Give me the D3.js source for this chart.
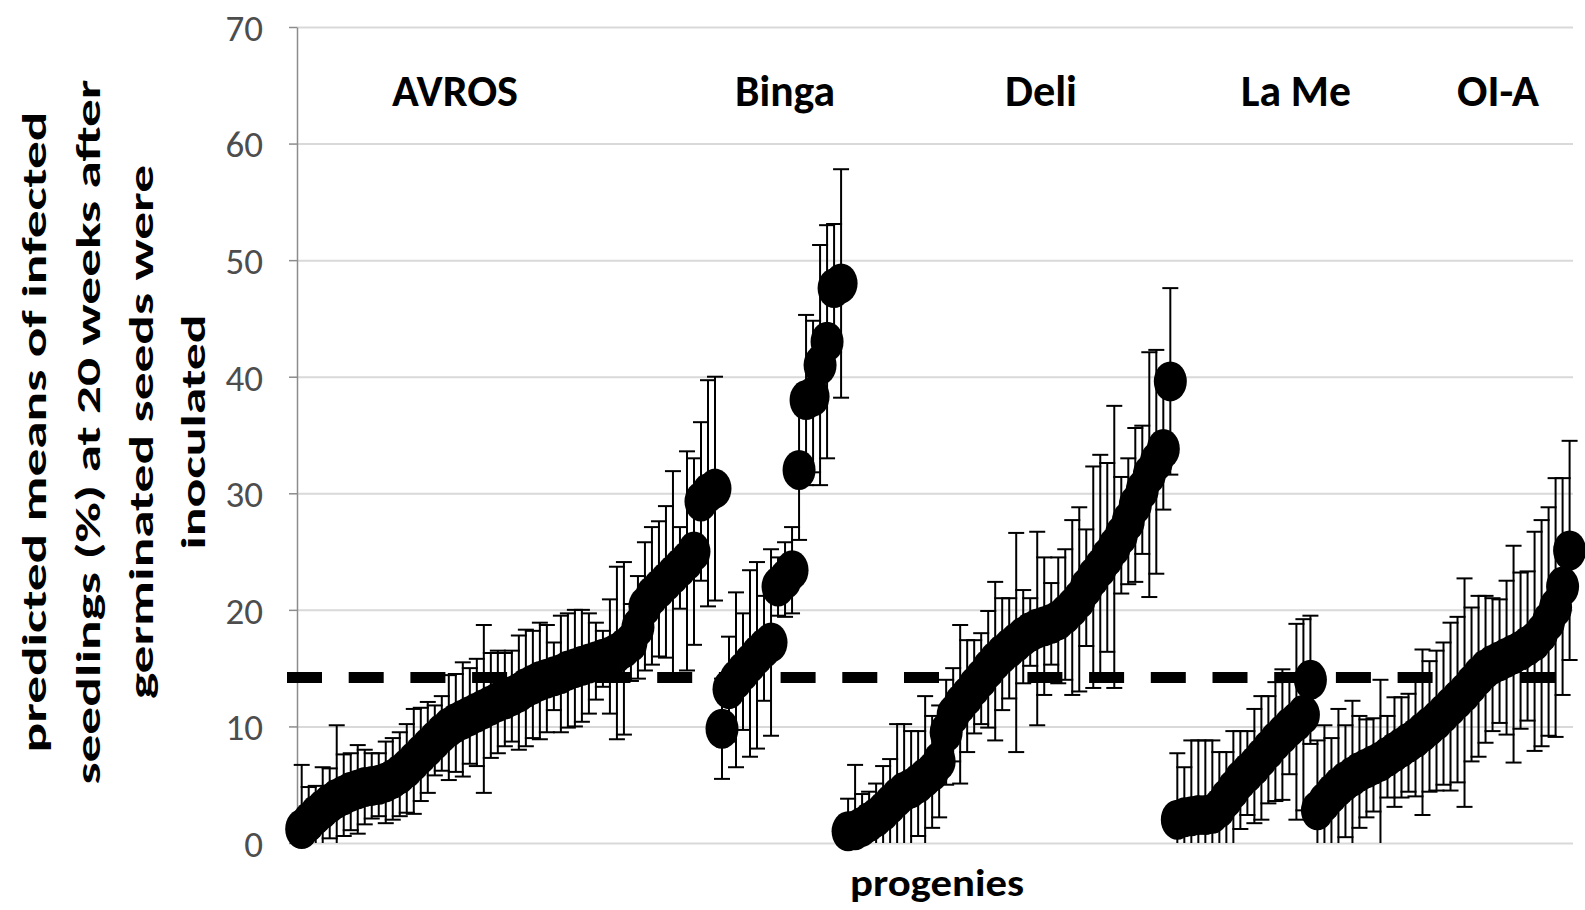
<!DOCTYPE html>
<html lang="en">
<head>
<meta charset="UTF-8">
<title>Predicted means of infected seedlings by progeny</title>
<script src="https://cdn.jsdelivr.net/npm/d3@7"></script>
<style>
    body{ margin: 0; background: #fff; }
    svg{ display: block; }
    .grid line{ stroke: #d9d9d9; stroke-width: 2px; }
    .grid .domain{ display: none; }
    .yaxis .domain{ stroke: #8c8c8c; stroke-width: 1.5px; }
    .yaxis line{ stroke: #8c8c8c; stroke-width: 1.5px; }
    .yaxis text{ font-family: Carlito, Lato, sans-serif; font-size: 37px; fill: #4d4d4d; }
    .errbar{ stroke: #000; stroke-width: 2px; fill: none; }
    .group-label{ font-family: Carlito, Lato, sans-serif; font-weight: bold; font-size: 45px; fill: #000; }
    .title{ font-family: Carlito, Lato, sans-serif; font-weight: bold; fill: #000; }
</style>
</head>
<body>
<svg id="chart"></svg>
<script>
    // group names (left to right)
    const groups = ['AVROS', 'Binga', 'Deli', 'La Me', 'OI-A'];

    // predicted means (%) and error bar half widths, sorted within each group
    const avrosMean = [1.2,1.8,2.4,2.9,3.4,3.8,4.1,4.4,4.6,4.8, 4.9,5.0,5.2,5.5,5.9,6.4,7.0,7.6,8.2,8.8,
        9.4,9.9,10.3,10.6,10.9,11.2,11.5,11.8,12.1,12.3, 12.6,12.9,13.3,13.6,13.9,14.1,14.3,14.5,14.8,15.0,
        15.2,15.4,15.6,15.8,16.0,16.3,16.7,17.2,18.5,20.3, 21.2,21.8,22.4,23.0,23.6,24.2,25.0,29.3,30.0,30.4];
    const avrosErr = [5.5,3.0,2.5,3.6,3.0,6.3,3.5,3.3,3.8,3.2, 2.8,2.7,3.5,3.5,3.6,3.8,4.5,4.0,3.9,3.0,
        3.2,4.5,4.2,4.9,4.1,4.6,7.2,4.5,4.4,4.0, 3.9,4.9,5.0,4.6,5.0,4.6,2.9,5.0,4.9,5.0,
        4.8,4.3,3.3,2.4,4.9,7.4,7.4,3.3,4.4,5.5, 5.9,5.8,6.5,8.9,3.5,9.4,8.0,6.8,9.7,9.6];

    const bingaMean = [9.8,13.2,14.0,14.7,15.4,16.1,16.7,17.2,22.0,22.6,23.4,32.0,38.0,38.3,41.0,43.0,47.6,48.0];
    const bingaErr  = [4.3,4.5,7.5,5.0,8.0,8.0,4.5,8.0,2.5,3.2,3.7,6.0,7.3,6.5,10.3,10.0,5.5,9.8];

    const deliMean = [1.0,1.1,1.4,1.8,2.2,2.7,3.3,3.9,4.4,4.7, 5.1,5.6,6.1,7.0,9.5,11.0,11.9,12.6,13.4,14.1,
        14.9,15.6,16.2,16.7,17.2,17.7,18.1,18.4,18.6,18.8, 19.1,19.6,20.2,20.9,21.9,22.8,23.6,24.5,25.4,26.4,
        27.6,29.0,30.3,31.6,32.7,33.8,39.6];
    const deliErr = [2.8,5.6,2.8,2.6,2.9,3.9,3.9,6.3,5.8,4.9, 4.5,7.0,4.8,4.8,4.5,4.0,6.8,4.8,4.0,3.9,
        5.0,6.8,4.8,4.3,9.4,4.0,2.9,8.3,5.9,3.5, 5.4,5.6,7.5,7.9,5.0,9.5,9.7,8.1,12.1,5.0,
        5.4,6.6,5.5,10.5,9.6,5.2,8.0];

    const lameMean = [2.0,2.2,2.3,2.4,2.4,2.5,3.0,3.8,4.6,5.4, 6.0,6.6,7.3,8.0,8.7,9.3,9.9,10.4,11.0,14.0];
    const lameErr  = [5.7,4.3,6.5,6.4,6.4,6.3,4.8,4.0,5.0,4.2, 3.6,4.9,5.3,4.6,5.1,5.6,4.0,8.4,8.2,5.5];

    const oiaMean = [2.8,3.5,4.2,4.8,5.3,5.7,6.1,6.4,6.7,7.0, 7.4,7.8,8.2,8.6,9.0,9.5,10.0,10.5,11.1,11.7,
        12.3,12.9,13.6,14.3,14.9,15.3,15.6,15.9,16.2,16.5, 16.9,17.3,18.0,19.0,20.2,22.0,25.1];
    const oiaErr = [6.0,6.6,4.8,6.7,4.8,6.5,4.8,4.2,4.0,7.0, 3.5,4.7,4.3,4.2,5.0,7.1,5.6,6.0,6.1,7.2,
        7.1,9.8,6.6,6.9,6.3,5.7,5.3,6.6,9.3,6.7, 6.4,9.4,9.7,9.8,11.1,9.3,9.4];

    // threshold line (dashed) and y ticks
    const threshold = 14.2;
    const yTicks = [0, 10, 20, 30, 40, 50, 60, 70];

    // flat table built from the arrays above
    const means = [avrosMean, bingaMean, deliMean, lameMean, oiaMean];
    const errs = [avrosErr, bingaErr, deliErr, lameErr, oiaErr];
    let data = [];
    means.forEach((arr, g) => arr.forEach((m, i) => data.push({group: groups[g], mean: m, err: errs[g][i]})));
    data.forEach((d, i) => d.idx = i);

    // layout
    const width = 1585, height = 910;
    const plotLeft = 297, plotRight = 1573, plotTop = 27, plotBottom = 843;

    let svg = d3.select('#chart').attr('width', width).attr('height', height);

    let yScale = d3.scaleLinear().domain([0, 70]).range([plotBottom, plotTop]);
    let xScale = d3.scaleLinear().domain([0, data.length - 1]).range([301.7, 1569.6]);

    // horizontal gridlines
    svg.append('g')
        .attr('class', 'grid')
        .attr('transform', `translate(${plotLeft},0)`)
        .call(d3.axisLeft(yScale).tickValues(yTicks).tickSize(-(plotRight - plotLeft)).tickFormat(''));

    // y axis
    svg.append('g')
        .attr('class', 'yaxis')
        .attr('transform', `translate(${plotLeft},0)`)
        .call(d3.axisLeft(yScale).tickValues(yTicks).tickSize(8).tickSizeOuter(0).tickPadding(26))
        .selectAll('text')
        .attr('dy', '0.36em');

    // error bars
    let bars = svg.append('g').attr('class', 'errbar');
    bars.selectAll('.vbar').data(data).enter().append('line')
        .attr('x1', d => xScale(d.idx)).attr('x2', d => xScale(d.idx))
        .attr('y1', d => yScale(d.mean + d.err))
        .attr('y2', d => yScale(Math.max(0, d.mean - d.err)));
    bars.selectAll('.capTop').data(data).enter().append('line')
        .attr('x1', d => xScale(d.idx) - 8).attr('x2', d => xScale(d.idx) + 8)
        .attr('y1', d => yScale(d.mean + d.err)).attr('y2', d => yScale(d.mean + d.err));
    bars.selectAll('.capBot').data(data.filter(d => d.mean - d.err > 0)).enter().append('line')
        .attr('x1', d => xScale(d.idx) - 8).attr('x2', d => xScale(d.idx) + 8)
        .attr('y1', d => yScale(d.mean - d.err)).attr('y2', d => yScale(d.mean - d.err));

    // dashed threshold line
    svg.append('line')
        .attr('x1', 287).attr('x2', 1578)
        .attr('y1', yScale(threshold)).attr('y2', yScale(threshold))
        .attr('stroke', '#000').attr('stroke-width', 11)
        .attr('stroke-dasharray', '35,26.7');

    // markers
    svg.append('g').selectAll('ellipse').data(data).enter().append('ellipse')
        .attr('cx', d => xScale(d.idx))
        .attr('cy', d => yScale(d.mean))
        .attr('rx', 16.5).attr('ry', 20)
        .attr('fill', '#000');

    // group labels
    const labelX = [455, 785, 1041, 1296, 1498];
    const labelLen = [126, 100, 72, 110, 82];
    svg.selectAll('.group-label').data(groups).enter().append('text')
        .attr('class', 'group-label')
        .attr('x', (d, i) => labelX[i] - labelLen[i] / 2)
        .attr('y', 106)
        .attr('textLength', (d, i) => labelLen[i])
        .attr('lengthAdjust', 'spacingAndGlyphs')
        .text(d => d);

    // x axis title
    svg.append('text')
        .attr('class', 'title')
        .attr('x', 937 - 87).attr('y', 896)
        .attr('font-size', 39)
        .attr('textLength', 174).attr('lengthAdjust', 'spacingAndGlyphs')
        .text('progenies');

    // y axis title, four lines
    const yTitle = ['predicted means of infected', 'seedlings (%) at 20 weeks after', 'germinated seeds were', 'inoculated'];
    const yTitleX = [46, 100, 153, 205];
    const yTitleLen = [641, 705, 534, 235];
    svg.selectAll('.ytitle').data(yTitle).enter().append('text')
        .attr('class', 'title')
        .attr('font-size', 34)
        .attr('transform', (d, i) => `translate(${yTitleX[i]},${432 + yTitleLen[i] / 2}) rotate(-90)`)
        .attr('textLength', (d, i) => yTitleLen[i])
        .attr('lengthAdjust', 'spacingAndGlyphs')
        .text(d => d);
</script>
</body>
</html>
